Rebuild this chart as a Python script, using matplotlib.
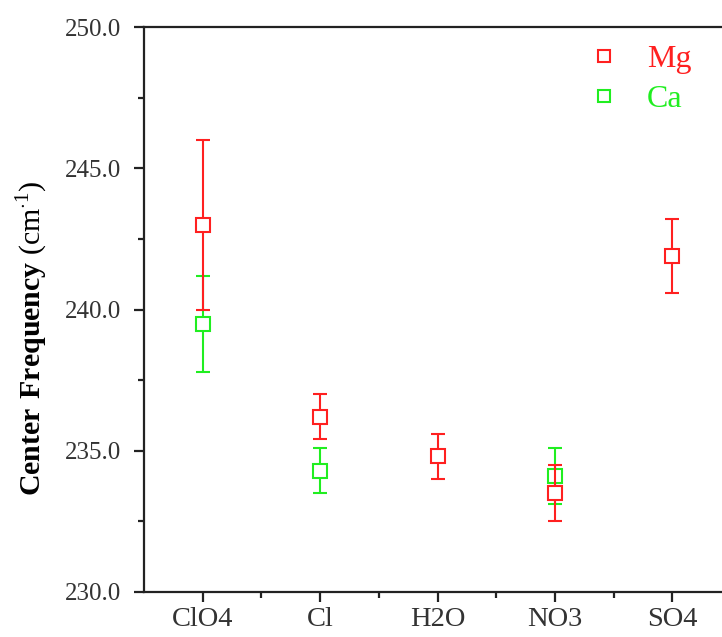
import matplotlib
matplotlib.use("Agg")
import matplotlib.pyplot as plt
from matplotlib.ticker import MultipleLocator, FormatStrFormatter
from matplotlib.lines import Line2D

categories = ["ClO4", "Cl", "H2O", "NO3", "SO4"]
mg_x = [1, 2, 3, 4, 5]
mg_vals = [243.0, 236.2, 234.8, 233.5, 241.9]
mg_err = [3.0, 0.8, 0.8, 1.0, 1.3]
ca_x = [1, 2, 4]
ca_vals = [239.5, 234.3, 234.1]
ca_err = [1.7, 0.8, 1.0]

plt.rcParams['font.family'] = ['Liberation Serif', 'DejaVu Serif']
plt.rcParams['mathtext.fontset'] = 'custom'
plt.rcParams['mathtext.rm'] = 'Liberation Serif'
plt.rcParams['mathtext.bf'] = 'Liberation Serif:bold'

fig = plt.figure(figsize=(7.22, 6.37), dpi=100)
ax = fig.add_axes([144/722, 1-592/637, (731-144)/722, (592-27)/637])

red = '#ff2020'
green = '#20ee20'
ax.errorbar(mg_x, mg_vals, yerr=mg_err, fmt='s', mfc='white', mec=red, ecolor=red,
            mew=1.5, ms=9.5, elinewidth=1.5, capsize=5, capthick=1.5, zorder=3)
ax.errorbar(ca_x, ca_vals, yerr=ca_err, fmt='s', mfc='white', mec=green, ecolor=green,
            mew=1.5, ms=9.5, elinewidth=1.5, capsize=5, capthick=1.5, zorder=2)

ax.set_xlim(0.5, 5.5)
ax.set_ylim(230, 250)
ax.set_xticks(mg_x)
ax.set_xticklabels(categories)
ax.set_xticks([1.5, 2.5, 3.5, 4.5], minor=True)
ax.yaxis.set_major_locator(MultipleLocator(5))
ax.yaxis.set_minor_locator(MultipleLocator(2.5))
ax.yaxis.set_major_formatter(FormatStrFormatter('%.1f'))

for s in ['left', 'bottom', 'top']:
    ax.spines[s].set_linewidth(1.6)
    ax.spines[s].set_color('#222222')
ax.spines['right'].set_visible(False)

ax.tick_params(axis='both', which='major', direction='out', length=7.5, width=1.6,
               colors='#222222', labelcolor='#333333')
ax.tick_params(axis='y', which='major', labelsize=18, pad=9)
ax.tick_params(axis='x', which='major', labelsize=20.5, pad=3)
ax.tick_params(axis='both', which='minor', direction='out', length=4.5, width=1.6, colors='#222222')
ax.tick_params(axis='x', which='both', top=False)
ax.tick_params(axis='y', which='both', right=False)

ax.set_ylabel(r"$\mathbf{Center\ Frequency}$ (cm$^{\cdot 1}$)", fontsize=21.5)
ax.yaxis.set_label_coords((50-144)/587, (592-338)/565)

handles = [Line2D([], [], ls='none', marker='s', ms=8, mfc='white', mec=red, mew=1.5),
           Line2D([], [], ls='none', marker='s', ms=8, mfc='white', mec=green, mew=1.5)]
leg = ax.legend(handles, ['Mg', 'Ca'], loc='upper left', bbox_to_anchor=(0.726, 1.0),
                frameon=False, fontsize=23, handletextpad=0.85, labelspacing=0.35,
                handlelength=1.0, borderaxespad=0.15)
for txt, c in zip(leg.get_texts(), [red, green]):
    txt.set_color(c)

fig.savefig("out.png", dpi=100)
